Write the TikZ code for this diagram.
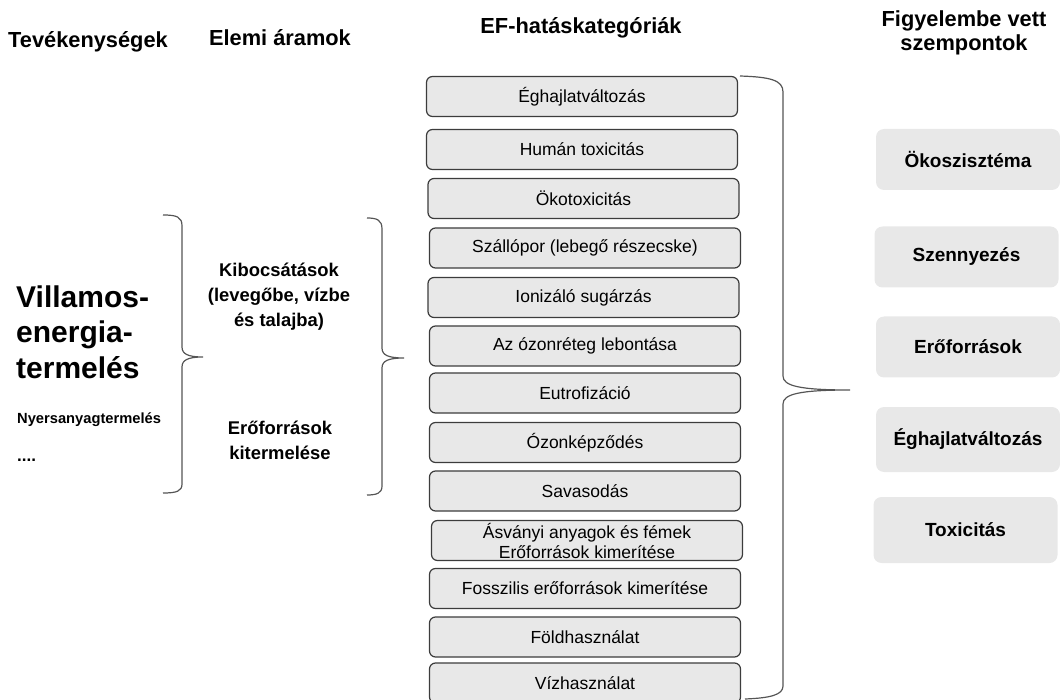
\documentclass[tikz,border=0pt]{standalone}
\usepackage{fontspec}
\setmainfont{Liberation Sans}
\usepackage{tikz}
\usepackage{xcolor}
\usetikzlibrary{positioning}
\definecolor{boxgray}{HTML}{E8E8E8}
\definecolor{edgegray}{HTML}{3C3C3C}
\definecolor{bracegray}{HTML}{555555}

\begin{document}
\begin{tikzpicture}[x=1pt,y=-1pt,
        katbox/.style={draw=edgegray,fill=boxgray,rounded corners=6pt,line width=1.2pt,
            minimum width=311pt,minimum height=40pt,inner sep=0pt,align=center,
            font=\fontsize{17.5}{20}\selectfont},
        szempbox/.style={fill=boxgray,rounded corners=8pt,minimum width=184pt,
            minimum height=61pt,inner sep=0pt,font=\bfseries\fontsize{19}{22}\selectfont},
        fejlec/.style={font=\bfseries\fontsize{21.8}{24}\selectfont,align=center,inner sep=0pt},
        kapocs/.style={draw=bracegray,line width=1.2pt}]
        \useasboundingbox (0,0) rectangle (1060,700);

        \node[fejlec,anchor=west] (hTev) at (8,42) {Tevékenységek};
        \node[fejlec] (hElemi) at (280,38) {Elemi áramok};
        \node[fejlec] (hEF) at (581,28) {EF-hatáskategóriák};
        \node[fejlec] (hFigy) at (964,33) {Figyelembe vett\\szempontok};

        \node[anchor=west,align=left,inner sep=0pt,font=\bfseries\fontsize{30}{35.5}\selectfont] (villamos) at (16,332) {Villamos-\\energia-\\termelés};
        \node[anchor=west,inner sep=0pt,font=\bfseries\fontsize{14.7}{16}\selectfont] (nyers) at (17,420) {Nyersanyagtermelés};
        \node[anchor=west,inner sep=0pt,font=\bfseries\fontsize{17}{17}\selectfont] (pontok) at (17,460) {....};

        \node[align=center,inner sep=0pt,font=\bfseries\fontsize{18.4}{25}\selectfont] (kibocs) at (279,297) {Kibocsátások\\(levegőbe, vízbe\\és talajba)};
        \node[align=center,inner sep=0pt,font=\bfseries\fontsize{18.4}{25}\selectfont] (kiterm) at (280,440) {Erőforrások\\kitermelése};

        \node[katbox] (eghajlat) at (582,96.5) {Éghajlatváltozás};
        \node[katbox] (human) at (582,149.5) {Humán toxicitás};
        \node[katbox] (okotox) at (583.5,198.5) {Ökotoxicitás};
        \node[katbox] (szallo) at (585,248) {Szállópor (lebegő részecske)};
        \node[katbox] (ioniz) at (583.5,297.5) {Ionizáló sugárzás};
        \node[katbox] (ozonret) at (585,346) {Az ózonréteg lebontása};
        \node[katbox] (eutrof) at (585,393) {Eutrofizáció};
        \node[katbox] (ozonkep) at (585,442.5) {Ózonképződés};
        \node[katbox] (savas) at (585,491) {Savasodás};
        \node[katbox,font=\fontsize{17.5}{20}\selectfont] (asvany) at (587,540.5) {Ásványi anyagok és fémek\\Erőforrások kimerítése};
        \node[katbox] (fosszil) at (585,588.5) {Fosszilis erőforrások kimerítése};
        \node[katbox] (foldhaszn) at (585,637) {Földhasználat};
        \node[katbox] (vizhaszn) at (585,683) {Vízhasználat};

        \node[szempbox] (okosz) at (968,159.5) {Ökoszisztéma};
        \node[szempbox] (szenny) at (966.5,257) {Szennyezés};
        \node[szempbox] (eroforr) at (968,347) {Erőforrások};
        \node[szempbox,minimum height=65pt] (eghajl) at (968,439.5) {Éghajlatváltozás};
        \node[szempbox,minimum height=66pt] (toxic) at (965.5,530) {Toxicitás};

        \draw[kapocs] (163,215) .. controls (177,215) and (182,217) .. (182,226) -- (182,347)
            .. controls (182,354) and (188,357) .. (203,357) .. controls (188,357) and (182,360) .. (182,367)
            -- (182,484) .. controls (182,491) and (177,493) .. (163,493);
        \draw[kapocs] (367,218) .. controls (377,218) and (382,220) .. (382,229) -- (382,348)
            .. controls (382,355) and (388,358) .. (404,358) .. controls (388,358) and (382,361) .. (382,368)
            -- (382,486) .. controls (382,493) and (377,495) .. (367,495);
        \draw[kapocs] (740,76) .. controls (770,77) and (783,80) .. (783,92) -- (783,376)
            .. controls (783,386) and (800,390) .. (850,390) .. controls (800,390) and (783,394) .. (783,404)
            -- (783,686) .. controls (783,695) and (770,698) .. (745,699);
    \end{tikzpicture}
\end{document}
